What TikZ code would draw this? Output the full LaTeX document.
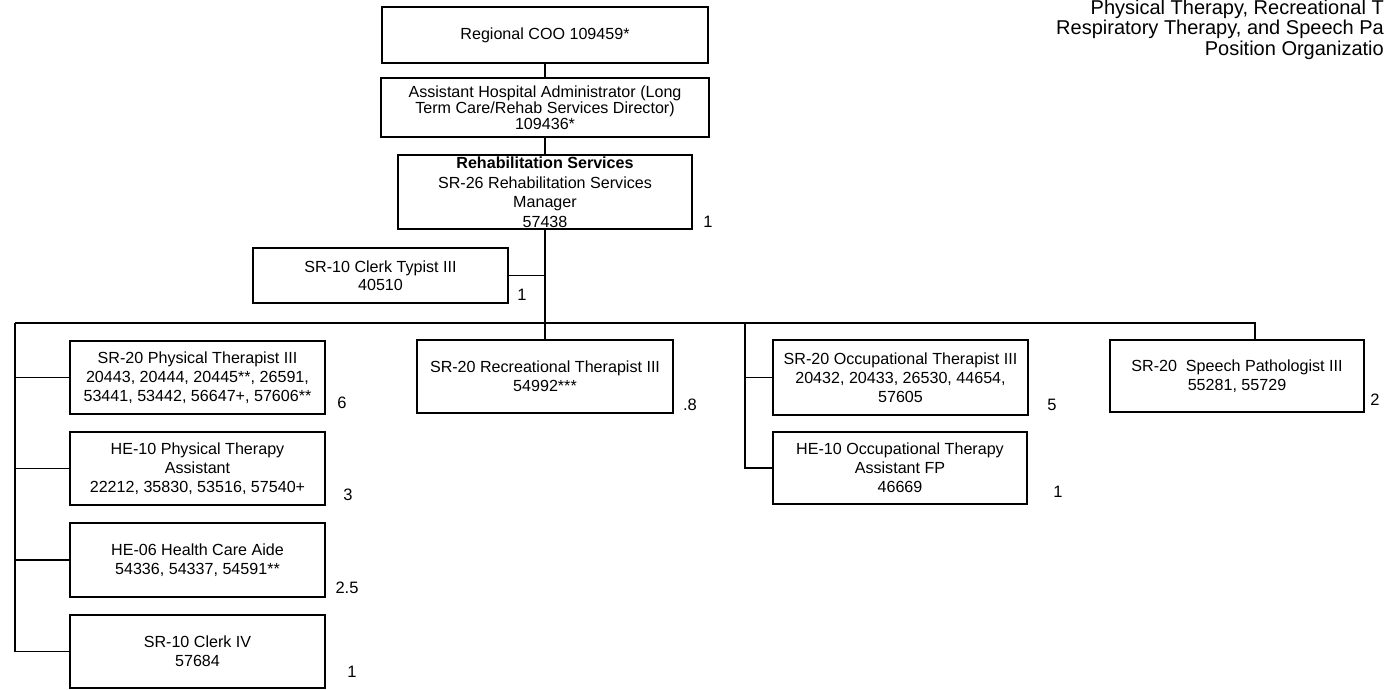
\documentclass[tikz,border=0pt]{standalone}
\usepackage{fontspec}
\setmainfont{Liberation Sans}
\usetikzlibrary{positioning}
\tikzset{
  post/.style={draw,line width=1.1pt,align=center,inner sep=1pt,
    minimum width=255pt,minimum height=73pt,
    font=\fontsize{16.1}{19}\selectfont},
  fte/.style={font=\fontsize{16.5}{19}\selectfont},
  link/.style={line width=1.1pt},
  heading/.style={anchor=base east,inner sep=0pt,font=\fontsize{20}{22}\selectfont},
}
\newcommand*{\fte}[2]
  {\node[fte] at (#1) {#2}}

\begin{document}
\begin{tikzpicture}[x=1pt,y=-1pt]
\useasboundingbox (0,0) rectangle (1384,689);
% title, cut off at the right edge
\node[heading] (t1) at (1384,14) {Physical Therapy, Recreational T};
\node[heading] (t2) at (1384,34) {Respiratory Therapy, and Speech Pa};
\node[heading] (t3) at (1384,55) {Position Organizatio};
% top of the chain
\node[post,minimum width=326pt,minimum height=56pt] (coo) at (545,35) {Regional COO 109459*};
\node[post,minimum width=328pt,minimum height=59pt,font=\fontsize{16.1}{16}\selectfont]
  (ahad) at (545,107.5) {Assistant Hospital Administrator (Long\\Term Care/Rehab Services Director)\\109436*};
\node[post,minimum width=294pt,minimum height=74pt,inner sep=0pt,font=\fontsize{16.1}{19.5}\selectfont]
  (rsm) at (545,192) {\textbf{Rehabilitation Services}\\SR-26 Rehabilitation Services\\Manager\\57438};
\node[post,minimum height=55pt,font=\fontsize{16.1}{18}\selectfont] (ct) at (380.5,275.5) {SR-10 Clerk Typist III\\40510};
% physical therapy column
\node[post] (pt) at (197.5,377.5) {SR-20 Physical Therapist III\\20443, 20444, 20445**, 26591,\\53441, 53442, 56647+, 57606**};
\node[post] (pta) at (197.5,468.5) {HE-10 Physical Therapy\\Assistant\\22212, 35830, 53516, 57540+};
\node[post,minimum height=74pt] (hca) at (197.5,560) {HE-06 Health Care Aide\\54336, 54337, 54591**};
\node[post] (clk4) at (197.5,651.5) {SR-10 Clerk IV\\57684};
% recreational, occupational, speech
\node[post,minimum width=256pt] (rec) at (545,376.5) {SR-20 Recreational Therapist III\\54992***};
\node[post,minimum height=75pt] (ot) at (900.5,377.5) {SR-20 Occupational Therapist III\\20432, 20433, 26530, 44654,\\57605};
\node[post,minimum width=254pt,minimum height=72pt] (ota) at (900,468) {HE-10 Occupational Therapy\\Assistant FP\\46669};
\node[post,minimum width=254pt,minimum height=72pt] (sp) at (1237,376) {SR-20\ \ Speech Pathologist III\\55281, 55729};
% lines
\coordinate (busL) at (15,323);
\coordinate (busR) at (1255,323);
\coordinate (otL) at (745,323);
\draw[link] (coo) -- (ahad);
\draw[link] (ahad) -- (rsm);
\draw[link] (rsm) -- (rec);
\draw[link] (ct.east) -- (ct.east -| rsm.south);
\draw[link] (busL) -- (busR) -- (busR |- sp.north);
\draw[link] (busL) -- (busL |- clk4.west) -- (clk4.west);
\foreach \n in {pt,pta,hca}
  \draw[link] (\n.west) -- (\n.west -| busL);
\draw[link] (otL) -- (otL |- ota.west) -- (ota.west);
\draw[link] (ot.west) -- (ot.west -| otL);
% position counts
\fte{708,222}{1};
\fte{522,295}{1};
\fte{342,403}{6};
\fte{348,495}{3};
\fte{347,588}{2.5};
\fte{352,672}{1};
\fte{690,405}{.8};
\fte{1052,405}{5};
\fte{1058,492}{1};
\fte{1375,400}{2};
\end{tikzpicture}
\end{document}
